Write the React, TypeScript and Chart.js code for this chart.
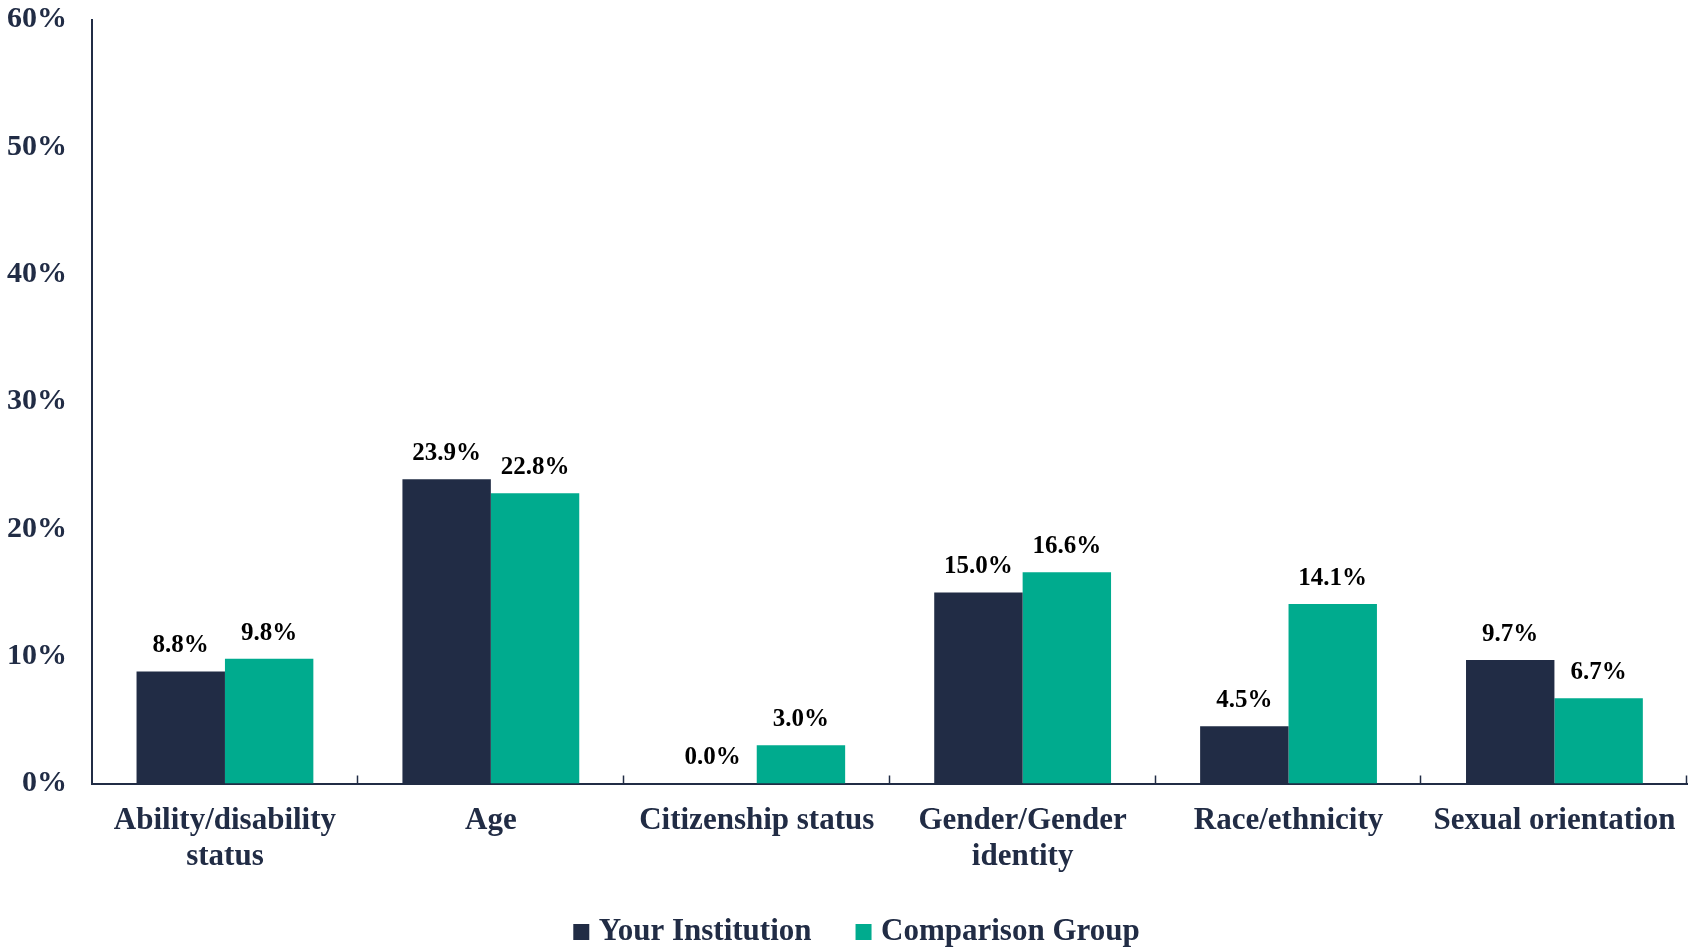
import React, { useEffect, useRef } from "react";
import { Chart, registerables } from "chart.js";

Chart.register(...registerables);

const categories: (string | string[])[] = [
  ["Ability/disability", "status"],
  "Age",
  "Citizenship status",
  ["Gender/Gender", "identity"],
  "Race/ethnicity",
  "Sexual orientation",
];
const yourInstitution = [8.8, 23.9, 0.0, 15.0, 4.5, 9.7];
const comparisonGroup = [9.8, 22.8, 3.0, 16.6, 14.1, 6.7];
const seriesNames = ["Your Institution", "Comparison Group"];
const yTicks = [0, 10, 20, 30, 40, 50, 60];

const NAVY = "#212c45";
const GREEN = "#00ab8e";
const SERIF = "'Liberation Serif', 'Times New Roman', serif";

const dataLabelPlugin = {
  id: "dataLabels",
  afterDatasetsDraw(chart: any) {
    const ctx = chart.ctx;
    ctx.save();
    ctx.font = `bold 25px ${SERIF}`;
    ctx.fillStyle = "#000000";
    ctx.textAlign = "center";
    ctx.textBaseline = "bottom";
    chart.data.datasets.forEach((ds: any, di: number) => {
      const meta = chart.getDatasetMeta(di);
      meta.data.forEach((bar: any, i: number) => {
        const v = ds.data[i];
        ctx.fillText(v.toFixed(1) + "%", bar.x, bar.y - 13);
      });
    });
    ctx.restore();
  },
};

const categoryTickPlugin = {
  id: "categoryTicks",
  afterDraw(chart: any) {
    const x = chart.scales.x;
    const ctx = chart.ctx;
    const n = chart.data.labels.length;
    const step = (x.right - x.left) / n;
    ctx.save();
    ctx.strokeStyle = NAVY;
    ctx.lineWidth = 1.5;
    for (let i = 1; i <= n; i++) {
      const px = Math.round(x.left + step * i) - 0.5;
      ctx.beginPath();
      ctx.moveTo(px, x.top);
      ctx.lineTo(px, x.top - 8);
      ctx.stroke();
    }
    ctx.restore();
  },
};

const legendShiftPlugin = {
  id: "legendShift",
  afterLayout(chart: any) {
    if (chart.legend) {
      chart.legend.left += 15;
      chart.legend.right += 15;
    }
  },
};

export default function App() {
  const ref = useRef<HTMLCanvasElement | null>(null);
  useEffect(() => {
    if (!ref.current) return;
    const chart = new Chart(ref.current, {
      type: "bar",
      data: {
        labels: categories,
        datasets: [
          {
            label: seriesNames[0],
            data: yourInstitution,
            backgroundColor: NAVY,
            categoryPercentage: 0.665,
            barPercentage: 1,
          },
          {
            label: seriesNames[1],
            data: comparisonGroup,
            backgroundColor: GREEN,
            categoryPercentage: 0.665,
            barPercentage: 1,
          },
        ],
      },
      options: {
        animation: false,
        responsive: false,
        maintainAspectRatio: false,
        layout: { padding: { left: 0, right: 7, top: 0, bottom: -7.5 } },
        plugins: {
          legend: {
            position: "bottom",
            labels: {
              usePointStyle: true,
              pointStyle: "rect",
              boxWidth: 4,
              boxHeight: 16,
              padding: 50,
              color: NAVY,
              font: { family: SERIF, size: 31, weight: "bold", lineHeight: 1.2 },
            },
          },
          tooltip: { enabled: false },
        },
        scales: {
          x: {
            afterFit(scale: any) {
              scale.height = 83;
              scale._computeLabelArea = () => undefined;
            },
            grid: { display: false, drawTicks: false },
            border: { display: true, color: NAVY, width: 2 },
            ticks: {
              color: NAVY,
              padding: 20,
              maxRotation: 0,
              autoSkip: false,
              font: { family: SERIF, size: 31, weight: "bold", lineHeight: 1.15 },
            },
          },
          y: {
            min: 0,
            max: 60,
            afterFit(scale: any) {
              scale.width = 92;
              scale.paddingTop = 19.5;
              scale.paddingBottom = 0;
            },
            afterBuildTicks(scale: any) {
              scale.ticks = yTicks.map((v) => ({ value: v }));
            },
            grid: { display: false, drawTicks: false },
            border: { display: true, color: NAVY, width: 2 },
            ticks: {
              color: NAVY,
              padding: 25,
              callback: (v: any) => v + "%",
              font: { family: SERIF, size: 30, weight: "bold", lineHeight: 1.0 },
            },
          },
        },
      },
      plugins: [dataLabelPlugin, categoryTickPlugin, legendShiftPlugin],
    });
    return () => chart.destroy();
  }, []);
  return (
    <div style={{ position: "absolute", left: 0, top: 0, width: 1696, height: 950, background: "#fff" }}>
      <canvas ref={ref} width={1696} height={950} style={{ width: 1696, height: 950 }} />
    </div>
  );
}
